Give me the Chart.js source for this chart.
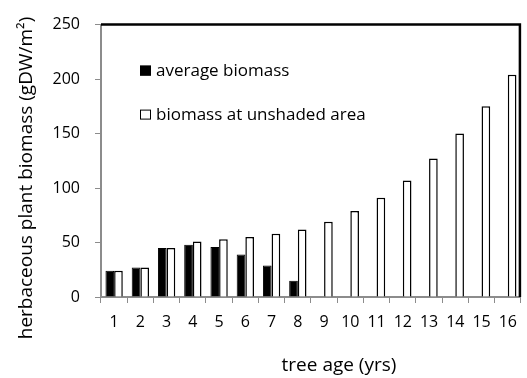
<!DOCTYPE html>
<html>
<head>
<meta charset="utf-8">
<script src="https://cdn.jsdelivr.net/npm/chart.js@4"></script>
<style>
  html, body { margin: 0; padding: 0; background: #fff; }
  #wrap { width: 527px; height: 378px; }
</style>
</head>
<body>
<div id="wrap"><canvas id="biomassChart" width="527" height="378"></canvas></div>
<script>
// --- données ---
const treeAges = ['1', '2', '3', '4', '5', '6', '7', '8', '9', '10', '11', '12', '13', '14', '15', '16'];
const averageBiomass = [24, 27, 45, 48, 46, 39, 29, 15, null, null, null, null, null, null, null, null];
const unshadedBiomass = [24, 27, 45, 51, 53, 55, 58, 62, 69, 79, 91, 107, 127, 150, 175, 204];
const yTicks = [0, 50, 100, 150, 200, 250];
const xTitle = 'tree age (yrs)';
const yTitle = 'herbaceous plant biomass (gDW/m²)';

const FONT = '"Open Sans", sans-serif';
const AXIS_GREY = '#8c8c8c';

// legende, titres des axes et cadre noir (haut + droite)
const decorations = {
    id: 'decorations',
    afterDraw(chart) {
        const c = chart.ctx;
        const a = chart.chartArea;
        c.save();

        // cadre noir
        c.strokeStyle = '#000';
        c.lineWidth = 2.5;
        c.beginPath();
        c.moveTo(a.left, a.top);
        c.lineTo(a.right - 1, a.top);
        c.lineTo(a.right - 1, a.bottom);
        c.stroke();

        // legende a l'interieur
        const rows = [
            { ds: chart.data.datasets[0], y: a.top + 46 },
            { ds: chart.data.datasets[1], y: a.top + 90 }
        ];
        c.font = '17px ' + FONT;
        c.textBaseline = 'middle';
        c.textAlign = 'left';
        rows.forEach(r => {
            const x = a.left + 39;
            c.fillStyle = r.ds.backgroundColor;
            c.fillRect(x, r.y - 5, 11, 10);
            c.strokeStyle = '#000';
            c.lineWidth = 1;
            c.strokeRect(x + 0.5, r.y - 4.5, 10, 9);
            c.fillStyle = '#000';
            c.fillText(r.ds.label, x + 16, r.y + 1);
        });

        // titres des axes
        c.font = '19px ' + FONT;
        c.textAlign = 'center';
        c.fillText(xTitle, 339, 366);
        c.translate(27, 178);
        c.rotate(-Math.PI / 2);
        c.fillText(yTitle, 0, 0);

        c.restore();
    }
};

const ctx = document.getElementById('biomassChart').getContext('2d');
const chart = new Chart(ctx, {
    type: 'bar',
    data: {
        labels: treeAges,
        datasets: [{
            label: 'average biomass',
            data: averageBiomass,
            backgroundColor: '#000',
            borderColor: '#000',
            borderWidth: 1,
            categoryPercentage: 0.66,
            barPercentage: 1
        }, {
            label: 'biomass at unshaded area',
            data: unshadedBiomass,
            backgroundColor: '#fff',
            borderColor: '#000',
            borderWidth: 1.5,
            categoryPercentage: 0.66,
            barPercentage: 1
        }]
    },
    options: {
        responsive: false,
        animation: false,
        devicePixelRatio: 1,
        layout: { padding: { top: 23, right: 2, left: 0, bottom: 0 } },
        plugins: { legend: { display: false }, tooltip: { enabled: false } },
        scales: {
            x: {
                grid: { display: true, drawOnChartArea: false, offset: true, tickLength: 6, color: AXIS_GREY, lineWidth: 1 },
                border: { color: AXIS_GREY, width: 2 },
                ticks: { color: '#000', font: { family: FONT, size: 16 }, padding: 10, maxRotation: 0 },
                afterFit(scale) { scale.height = 81; }
            },
            y: {
                min: 0,
                max: 250,
                afterBuildTicks(scale) { scale.ticks = yTicks.map(v => ({ value: v })); },
                grid: { display: true, drawOnChartArea: false, tickLength: 6, color: AXIS_GREY, lineWidth: 1 },
                border: { color: AXIS_GREY, width: 2 },
                ticks: { color: '#000', font: { family: FONT, size: 16 }, padding: 15 },
                afterFit(scale) { scale.width = 101; }
            }
        }
    },
    plugins: [decorations]
});
</script>
</body>
</html>
